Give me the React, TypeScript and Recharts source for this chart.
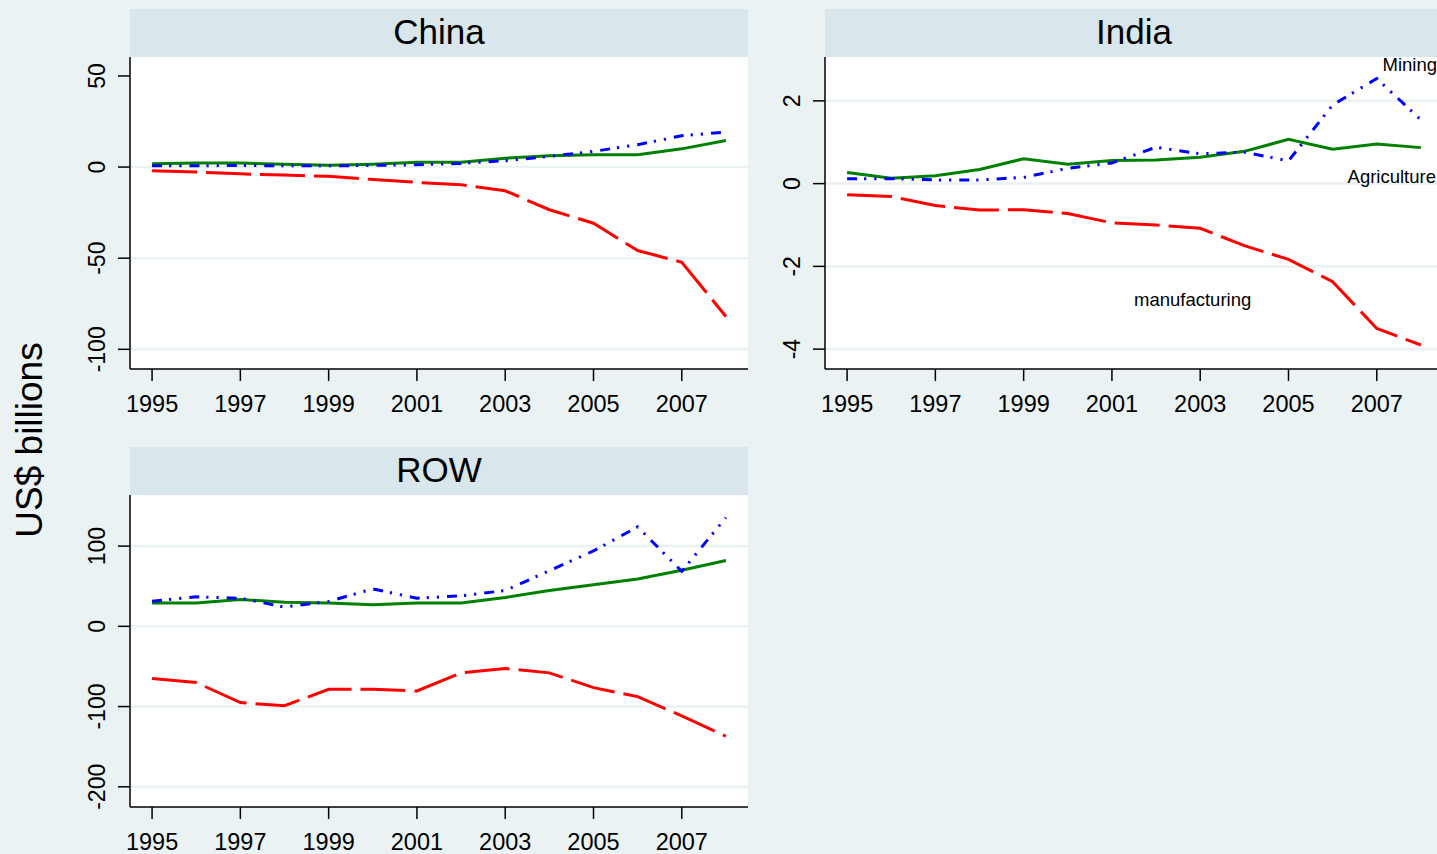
import React from "react"
import { LineChart, Line, XAxis, YAxis, CartesianGrid } from "recharts"

const years = [1995, 1996, 1997, 1998, 1999, 2000, 2001, 2002, 2003, 2004, 2005, 2006, 2007, 2008]
const yearTicks = [1995, 1997, 1999, 2001, 2003, 2005, 2007]

const chinaAgri = [1.8, 2.2, 2.2, 1.6, 1, 1.6, 2.6, 2.7, 4.9, 6.2, 6.8, 6.8, 10, 14.6]
const chinaMining = [0.7, 0.7, 0.9, 0.7, 0.7, 0.9, 1.3, 2, 3.5, 5.9, 8.6, 12.3, 17.2, 19.2]
const chinaManuf = [-2, -2.7, -3.7, -4.4, -5.1, -6.8, -8.4, -9.7, -13, -23.4, -30.8, -45.8, -52.2, -82]

const indiaAgri = [0.27, 0.13, 0.19, 0.34, 0.6, 0.47, 0.56, 0.57, 0.64, 0.78, 1.07, 0.83, 0.96, 0.87]
const indiaMining = [0.12, 0.12, 0.09, 0.09, 0.15, 0.37, 0.5, 0.88, 0.72, 0.76, 0.55, 1.9, 2.54, 1.54]
const indiaManuf = [-0.27, -0.31, -0.53, -0.64, -0.63, -0.72, -0.95, -1.0, -1.08, -1.5, -1.83, -2.37, -3.5, -3.9]

const rowAgri = [29, 29, 33.5, 30, 29, 27, 29, 29, 36, 44.6, 51.7, 59, 70, 82]
const rowMining = [31.4, 36.8, 35, 24, 31, 46.7, 35, 38, 44.6, 69.4, 94, 124, 68.6, 135.5]
const rowManuf = [-65, -70, -95, -99, -78.5, -78.5, -80.6, -58, -52.5, -58, -76.4, -87.6, -111.6, -137]

const chinaTicks = [-100, -50, 0, 50]
const chinaGrid = [-100, -50, 0]
const indiaTicks = [-4, -2, 0, 2]
const rowTicks = [-200, -100, 0, 100]

const FONT = "'Liberation Sans', Arial, Helvetica, sans-serif"
const PAGE_BG = "#eaf2f3"
const STRIP_BG = "#d9e6eb"

function rows(agri: number[], mining: number[], manuf: number[]) {
  return years.map((year, i) => ({ year, agri: agri[i], mining: mining[i], manuf: manuf[i] }))
}

function YTick(props: any) {
  const { x, y, payload } = props
  return (
    <text
      transform={`translate(${x},${y}) rotate(-90)`}
      textAnchor="middle"
      fontSize={23}
      fill="#000"
      fontFamily={FONT}
    >
      {payload.value}
    </text>
  )
}

interface PanelProps {
  title: string
  left: number
  top: number
  data: Array<{ year: number; agri: number; mining: number; manuf: number }>
  domain: [number, number]
  ticks: number[]
  grid: number[]
}

const PLOT_W = 618
const PLOT_H = 312
const Y_W = 60
const X_H = 50

function Panel({ title, left, top, data, domain, ticks, grid }: PanelProps) {
  return (
    <>
      <div
        style={{
          position: "absolute",
          left,
          top: top - 48,
          width: PLOT_W,
          height: 48,
          background: STRIP_BG,
          fontSize: 35,
          lineHeight: "45px",
          textAlign: "center",
          color: "#000",
        }}
      >
        {title}
      </div>
      <div style={{ position: "absolute", left: left - Y_W, top }}>
        <LineChart
          width={Y_W + PLOT_W}
          height={PLOT_H + X_H}
          data={data}
          margin={{ top: 0, right: 0, bottom: 0, left: 0 }}
        >
          <CartesianGrid
            vertical={false}
            horizontalValues={grid}
            stroke={PAGE_BG}
            strokeWidth={2.5}
            fill="#ffffff"
            fillOpacity={1}
          />
          <XAxis
            dataKey="year"
            type="number"
            domain={[1994.5, 2008.5]}
            ticks={yearTicks}
            allowDataOverflow
            height={X_H}
            tickSize={12}
            tickMargin={14}
            stroke="#000"
            strokeWidth={1.5}
            tick={{ fontSize: 23.5, fill: "#000", fontFamily: FONT }}
            interval={0}
          />
          <YAxis
            type="number"
            domain={domain}
            ticks={ticks}
            allowDataOverflow
            width={Y_W}
            tickSize={12}
            tickMargin={13}
            stroke="#000"
            strokeWidth={1.5}
            tick={<YTick />}
            interval={0}
          />
          <Line
            dataKey="agri"
            type="linear"
            stroke="#008000"
            strokeWidth={3}
            dot={false}
            isAnimationActive={false}
          />
          <Line
            dataKey="manuf"
            type="linear"
            stroke="#ff0000"
            strokeWidth={3}
            strokeDasharray="45 9"
            dot={false}
            isAnimationActive={false}
          />
          <Line
            dataKey="mining"
            type="linear"
            stroke="#0000ff"
            strokeWidth={3}
            strokeDasharray="10 7 2.2 8 2.2 8"
            dot={false}
            isAnimationActive={false}
          />
        </LineChart>
      </div>
    </>
  )
}

const noteStyle: React.CSSProperties = {
  position: "absolute",
  fontSize: 18.5,
  lineHeight: "20px",
  color: "#000",
  whiteSpace: "nowrap",
}

export default function App() {
  return (
    <div
      style={{
        position: "absolute",
        left: 0,
        top: 0,
        width: 1437,
        height: 854,
        overflow: "hidden",
        background: PAGE_BG,
        fontFamily: FONT,
      }}
    >
      <Panel
        title="China"
        left={130}
        top={57}
        data={rows(chinaAgri, chinaMining, chinaManuf)}
        domain={[-110.8, 60.4]}
        ticks={chinaTicks}
        grid={chinaGrid}
      />
      <Panel
        title="India"
        left={825}
        top={57}
        data={rows(indiaAgri, indiaMining, indiaManuf)}
        domain={[-4.48, 3.06]}
        ticks={indiaTicks}
        grid={indiaTicks}
      />
      <Panel
        title="ROW"
        left={130}
        top={495}
        data={rows(rowAgri, rowMining, rowManuf)}
        domain={[-225.2, 163.7]}
        ticks={rowTicks}
        grid={rowTicks}
      />
      <div style={{ ...noteStyle, right: 0, top: 55 }}>Mining</div>
      <div style={{ ...noteStyle, right: 1, top: 167 }}>Agriculture</div>
      <div style={{ ...noteStyle, left: 1134, top: 290 }}>manufacturing</div>
      <div
        style={{
          position: "absolute",
          left: 30,
          top: 440,
          fontSize: 37,
          color: "#000",
          whiteSpace: "nowrap",
          transform: "translate(-50%, -50%) rotate(-90deg)",
        }}
      >
        US$ billions
      </div>
    </div>
  )
}
